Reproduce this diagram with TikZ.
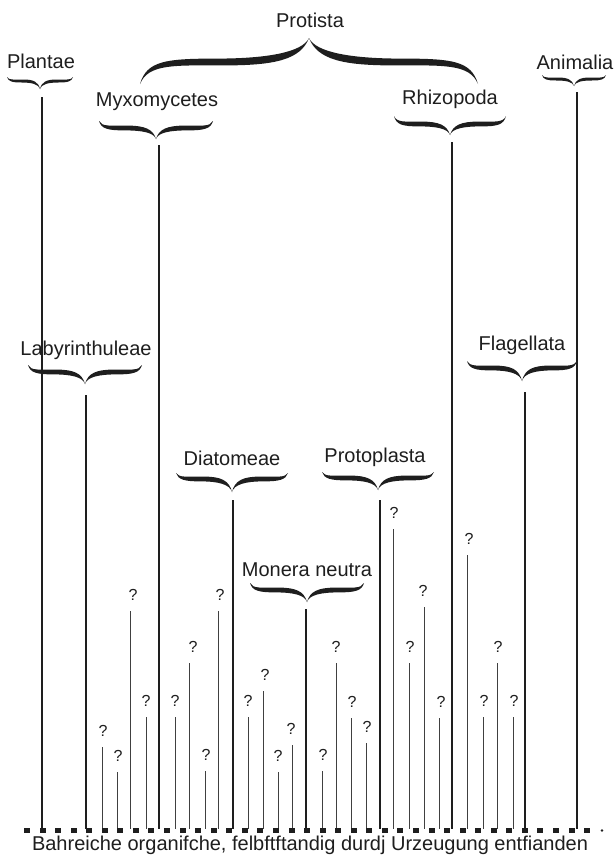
\documentclass[tikz,border=0pt]{standalone}
\usepackage{fontspec}
\setmainfont{Liberation Sans}
\definecolor{ink}{HTML}{1E1E1E}
\tikzset{
  lbl/.style={font=\fontsize{20}{22}\selectfont, text=ink, inner sep=0pt, anchor=center},
  qm/.style={font=\fontsize{16}{18}\selectfont, text=ink, inner sep=0pt, anchor=center},
  stem/.style={draw=ink, line width=1.4pt},
  qstem/.style={draw=ink!85, line width=1pt},
  foot/.style={font=\fontsize{20}{22}\selectfont, text=ink, inner sep=0pt, anchor=center},
}
% calligraphic brace: cx, body y, half width, tip rise, cusp drop, half thickness
\newcommand\cbrace[6]{%
  \begin{scope}[shift={(#1,#2)}]
    \foreach \s in {1,-1}{
      \fill[ink, xscale=\s*#3] (-1,{-(#4)}) .. controls (-0.96,{0.3*(#6)}) and (-0.85,{#6}) .. (-0.55,{#6})
        .. controls (-0.25,{#6}) and (-0.04,{0.4*(#5)}) .. (0,{#5})
        .. controls (-0.05,{0.1*(#5)}) and (-0.2,{-(#6)}) .. (-0.5,{-(#6)})
        .. controls (-0.8,{-(#6)}) and (-0.95,{-0.5*(#6)}) .. (-1,{-(#4)}) -- cycle;
    }
  \end{scope}}
\begin{document}
\begin{tikzpicture}[x=1pt,y=1pt]
\begin{scope}[yscale=-1]
\useasboundingbox (0,0) rectangle (614,857);
\fill[white] (0,0) rectangle (614,857);

% labels
\node[lbl] (protista) at (310,20) {Protista};
\node[lbl] (plantae) at (41,61) {Plantae};
\node[lbl] (animalia) at (575,62) {Animalia};
\node[lbl] (myxo) at (157,102) {Myxomycetes};
\node[lbl] (rhizo) at (450,99) {Rhizopoda};
\node[lbl] (laby) at (86,350) {Labyrinthuleae};
\node[lbl] (flag) at (522,345) {Flagellata};
\node[lbl] (diato) at (232,458) {Diatomeae};
\node[lbl] (proto) at (375,457) {Protoplasta};
\node[lbl] (monera) at (307,570) {Monera neutra};

% braces
\cbrace{309}{62}{169}{-22}{-24}{-3.4}
\cbrace{40}{81}{33}{4}{8}{1.5}
\cbrace{574}{79}{32}{4}{7}{1.5}
\cbrace{156}{128}{57}{7}{11}{2.4}
\cbrace{450}{124}{56}{8}{11}{2.4}
\cbrace{85}{372}{57}{7}{12}{2.4}
\cbrace{522}{368}{55}{7}{13}{2.4}
\cbrace{232}{479}{56}{6}{13}{2.4}
\cbrace{378}{478}{56}{6}{12}{2.4}
\cbrace{307}{590}{57}{7}{12}{2.4}

% main stems
\foreach \n/\x/\t in {plantae/42/97, laby/86/395, myxo/159/145, diato/233/500,
  monera/306/609, proto/380/500, rhizo/452/142, flag/525/392, animalia/577/92}{
  \coordinate (\n-top) at (\x,\t);
  \coordinate (\n-base) at (\x,829);
  \draw[stem] (\n-top) -- (\n-base);
}

% question-mark stems
\foreach \x/\t/\o [count=\i] in {102/747/1, 117/772/1, 130/611/3, 146/717/0, 175/717/0,
  189/663/4, 205/771/1, 218/611/2, 248/717/0, 263/691/2, 278/772/0, 292/745/-1,
  322/771/1, 336/663/0, 351/718/1, 366/743/1, 393/529/1, 409/663/1, 424/607/-1,
  439/718/2, 467/555/2, 483/717/1, 497/663/1, 513/717/1}{
  \node[qm] (q\i) at (\x+\o,\t-16) {?};
  \coordinate (qt\i) at (\x,\t);
  \coordinate (qb\i) at (\x,829);
  \draw[qstem] (qt\i) -- (qb\i);
}

% dotted base line
\foreach \i in {0,...,36}{
  \fill[ink] ({27+15.56*\i-3},828) rectangle ++(6,4.5);
}
\fill[ink] (602,830.5) circle (1.4);

\node[foot] (base) at (310,845) {Bahreiche organifche, felbftftandig durdj Urzeugung entfianden};
\end{scope}
\end{tikzpicture}
\end{document}
